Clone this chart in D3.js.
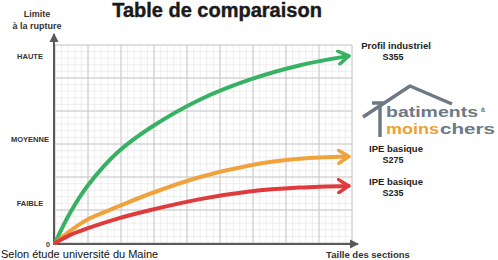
<!DOCTYPE html>
<html>
<head>
<meta charset="utf-8">
<script src="https://cdn.jsdelivr.net/npm/d3@7"></script>
<style>
  body { margin: 0; background: #fff; }
  text { font-family: "Liberation Sans", Arial, sans-serif; }
</style>
</head>
<body>
<div id="chart"></div>
<script>
// grid units: x = taille des sections (0..9), y = limite a la rupture (0..6)
var levelNames = ["FAIBLE", "MOYENNE", "HAUTE"];
var levelValues = [1.2, 3.15, 5.65];

var seriesNames = ["Profil industriel", "IPE basique", "IPE basique"];
var seriesGrades = ["S355", "S275", "S235"];
var seriesColors = ["#36b262", "#f0a23c", "#df3a3c"];

var xValues = [0, 0.45, 1.0, 1.9, 2.9, 4.4, 5.9, 7.4, 8.9];
var greenValues = [0, 0.9, 1.75, 2.75, 3.5, 4.35, 4.95, 5.38, 5.67];
var orangeValues = [0, 0.36, 0.72, 1.1, 1.5, 2.0, 2.35, 2.55, 2.62];
var redValues = [0, 0.24, 0.45, 0.74, 1.0, 1.33, 1.56, 1.68, 1.73];

var svg = d3.select("#chart")
    .append("svg")
    .attr("width", 498)
    .attr("height", 260);

var x = d3.scaleLinear().domain([0, 9]).range([55, 352]);
var y = d3.scaleLinear().domain([0, 6]).range([243, 45]);

// grid
var minor = d3.range(0, 9.01, 0.2);
var minorY = d3.range(0, 6.01, 0.2);
svg.append("g").selectAll("line")
    .data(minor)
    .enter().append("line")
    .attr("x1", function(d) { return x(d); })
    .attr("x2", function(d) { return x(d); })
    .attr("y1", y(6))
    .attr("y2", y(0))
    .attr("stroke", "#e8e8e8")
    .attr("stroke-width", 0.7);
svg.append("g").selectAll("line")
    .data(minorY)
    .enter().append("line")
    .attr("x1", x(0))
    .attr("x2", x(9))
    .attr("y1", function(d) { return y(d); })
    .attr("y2", function(d) { return y(d); })
    .attr("stroke", "#e8e8e8")
    .attr("stroke-width", 0.7);
svg.append("g").selectAll("line")
    .data(d3.range(0, 10))
    .enter().append("line")
    .attr("x1", function(d) { return x(d); })
    .attr("x2", function(d) { return x(d); })
    .attr("y1", y(6))
    .attr("y2", y(0))
    .attr("stroke", "#c8c8c8")
    .attr("stroke-width", 1);
svg.append("g").selectAll("line")
    .data(d3.range(0, 7))
    .enter().append("line")
    .attr("x1", x(0))
    .attr("x2", x(9))
    .attr("y1", function(d) { return y(d); })
    .attr("y2", function(d) { return y(d); })
    .attr("stroke", "#c8c8c8")
    .attr("stroke-width", 1);

// arrow markers
var defs = svg.append("defs");
seriesColors.forEach(function(c, i) {
    defs.append("marker")
        .attr("id", "arr" + i)
        .attr("markerUnits", "userSpaceOnUse")
        .attr("viewBox", "-12 -8 14 16")
        .attr("refX", 0)
        .attr("refY", 0)
        .attr("markerWidth", 14)
        .attr("markerHeight", 16)
        .attr("orient", "auto")
        .append("path")
        .attr("d", "M-10,-6.5L0,0L-10,6.5")
        .attr("fill", "none")
        .attr("stroke", c)
        .attr("stroke-width", 3.5)
        .attr("stroke-linecap", "round")
        .attr("stroke-linejoin", "round");
});
defs.append("marker")
    .attr("id", "axarr")
    .attr("markerUnits", "userSpaceOnUse")
    .attr("viewBox", "-8 -5 9 10")
    .attr("refX", 0)
    .attr("refY", 0)
    .attr("markerWidth", 9)
    .attr("markerHeight", 10)
    .attr("orient", "auto")
    .append("path")
    .attr("d", "M-8,-4.5L1,0L-8,4.5Z")
    .attr("fill", "#5a5a5a");

// axes
svg.append("line")
    .attr("x1", x(0) - 1).attr("y1", y(0) + 1)
    .attr("x2", x(0) - 1).attr("y2", 34)
    .attr("stroke", "#5a5a5a").attr("stroke-width", 2)
    .attr("marker-end", "url(#axarr)");
svg.append("line")
    .attr("x1", x(0) - 2).attr("y1", y(0) + 1)
    .attr("x2", 358).attr("y2", y(0) + 1)
    .attr("stroke", "#5a5a5a").attr("stroke-width", 2)
    .attr("marker-end", "url(#axarr)");

// curves
var line = d3.line()
    .x(function(d) { return x(d[0]); })
    .y(function(d) { return y(d[1]); })
    .curve(d3.curveCatmullRom.alpha(0.5));

[greenValues, orangeValues, redValues].forEach(function(vals, i) {
    svg.append("path")
        .datum(xValues.map(function(v, j) { return [v, vals[j]]; }))
        .attr("d", line)
        .attr("fill", "none")
        .attr("stroke", seriesColors[i])
        .attr("stroke-width", 4)
        .attr("stroke-linecap", "round")
        .attr("marker-end", "url(#arr" + i + ")");
});

// y level labels
svg.append("g").selectAll("text")
    .data(levelNames)
    .enter().append("text")
    .attr("x", 30)
    .attr("y", function(d, i) { return y(levelValues[i]) + 2.5; })
    .attr("text-anchor", "middle")
    .attr("font-size", 7.5)
    .attr("font-weight", "bold")
    .attr("fill", "#333")
    .text(function(d) { return d; });

svg.append("text")
    .attr("x", 48).attr("y", 247)
    .attr("text-anchor", "middle")
    .attr("font-size", 7).attr("font-weight", "bold").attr("fill", "#333")
    .text("0");

// titles
svg.append("text")
    .attr("x", 217).attr("y", 17)
    .attr("text-anchor", "middle")
    .attr("font-size", 20).attr("font-weight", "bold").attr("fill", "#1a1a1a")
    .attr("stroke", "#1a1a1a").attr("stroke-width", 0.4)
    .text("Table de comparaison");

svg.append("text")
    .attr("x", 37).attr("y", 17)
    .attr("text-anchor", "middle")
    .attr("font-size", 9).attr("font-weight", "bold").attr("fill", "#333")
    .text("Limite");
svg.append("text")
    .attr("x", 37).attr("y", 29)
    .attr("text-anchor", "middle")
    .attr("font-size", 9).attr("font-weight", "bold").attr("fill", "#333")
    .text("à la rupture");

svg.append("text")
    .attr("x", 368).attr("y", 258)
    .attr("text-anchor", "middle")
    .attr("font-size", 9.5).attr("font-weight", "bold").attr("fill", "#333")
    .text("Taille des sections");

svg.append("text")
    .attr("x", 1).attr("y", 258)
    .attr("font-size", 11).attr("fill", "#111")
    .text("Selon étude université du Maine");

// series labels
var labelY = [49, 152, 185];
seriesNames.forEach(function(n, i) {
    svg.append("text")
        .attr("x", 396).attr("y", labelY[i])
        .attr("text-anchor", "middle")
        .attr("font-size", 9.5).attr("font-weight", "bold").attr("fill", "#222")
        .text(n);
    svg.append("text")
        .attr("x", 393).attr("y", labelY[i] + 11)
        .attr("text-anchor", "middle")
        .attr("font-size", 9).attr("font-weight", "bold").attr("fill", "#222")
        .text(seriesGrades[i]);
});

// logo
var logo = svg.append("g");
logo.append("path")
    .attr("d", "M363,117L410,86L452,104")
    .attr("fill", "none").attr("stroke", "#6d7985")
    .attr("stroke-width", 3.5).attr("stroke-linejoin", "round");
logo.append("path")
    .attr("d", "M372,103L385,103M380,103L380,137")
    .attr("fill", "none").attr("stroke", "#6d7985")
    .attr("stroke-width", 3.5);
logo.append("text")
    .attr("x", 386).attr("y", 117)
    .attr("font-size", 15).attr("font-weight", "bold").attr("fill", "#6d7985")
    .attr("textLength", 92).attr("lengthAdjust", "spacingAndGlyphs")
    .text("batiments");
logo.append("text")
    .attr("x", 481).attr("y", 112)
    .attr("font-size", 7).attr("font-weight", "bold").attr("fill", "#6d7985")
    .text("à");
logo.append("text")
    .attr("x", 386).attr("y", 134)
    .attr("font-size", 15).attr("font-weight", "bold").attr("fill", "#f0a033")
    .attr("textLength", 53).attr("lengthAdjust", "spacingAndGlyphs")
    .text("moins");
logo.append("text")
    .attr("x", 440).attr("y", 134)
    .attr("font-size", 15).attr("font-weight", "bold").attr("fill", "#6d7985")
    .attr("textLength", 55).attr("lengthAdjust", "spacingAndGlyphs")
    .text("chers");
</script>
</body>
</html>
